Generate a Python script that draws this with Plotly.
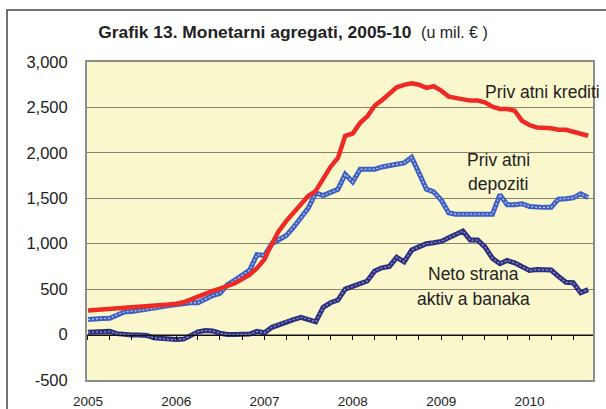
import pandas as pd
import plotly.graph_objects as go

# Monthly observations, Jan 2005 - Sep 2010 (mil. EUR)
months = pd.date_range("2005-01-01", periods=69, freq="MS").strftime("%Y-%m-%d").tolist()

privatni_krediti = [
    265, 270, 280, 285, 290, 295, 300, 305, 310, 315, 325, 330,
    340, 355, 385, 420, 450, 480, 505, 530, 565, 610, 660, 730,
    830, 1000, 1138, 1249, 1340, 1440, 1525, 1580, 1727, 1845, 1945, 2188,
    2213, 2330, 2400, 2519, 2580, 2648, 2722, 2748, 2766, 2750, 2715, 2733,
    2685, 2619, 2604, 2590, 2575, 2575, 2556, 2508, 2483, 2483, 2464, 2354,
    2306, 2280, 2277, 2270, 2254, 2254, 2232, 2210, 2188,
]

privatni_depoziti = [
    165, 175, 178, 180, 220, 250, 255, 265, 275, 290, 305, 320,
    335, 345, 350, 350, 390, 430, 455, 550, 600, 650, 710, 880,
    870, 1000, 1050, 1090, 1180, 1285, 1390, 1560, 1530, 1565, 1600, 1765,
    1680, 1820, 1820, 1820, 1845, 1865, 1875, 1890, 1950, 1780, 1600, 1570,
    1480, 1340, 1325, 1325, 1325, 1325, 1325, 1325, 1540, 1430, 1430, 1440,
    1410, 1400, 1400, 1400, 1490, 1495, 1505, 1550, 1510,
]

neto_strana_aktiva = [
    25, 30, 25, 35, 10, 0, -5, -5, -10, -35, -45, -55,
    -55, -50, -10, 30, 45, 40, 15, 0, 0, 0, 5, 35,
    20, 80, 110, 145, 165, 190, 170, 140, 300, 350, 380, 500,
    530, 560, 590, 700, 735, 750, 850, 800, 930, 965, 1000, 1010,
    1025, 1065, 1100, 1140, 1040, 1040, 965, 840, 780, 815, 790, 750,
    705, 715, 710, 710, 640, 575, 570, 460, 495,
]

year_ticks = ["2005-01-01", "2006-01-01", "2007-01-01", "2008-01-01", "2009-01-01", "2010-01-01"]
year_labels = ["2005", "2006", "2007", "2008", "2009", "2010"]

y_ticks = [-500, 0, 500, 1000, 1500, 2000, 2500, 3000]
y_labels = ["-500", "0", "500", "1,000", "1,500", "2,000", "2,500", "3,000"]

RED = "#ee2a24"
BLUE = "#3d5fc2"
BLUE_DOT = "#b9c7f0"
NAVY = "#2b2f7c"
NAVY_DOT = "#9096cc"
FONT = "Liberation Sans, Arial, sans-serif"

fig = go.Figure()

# Neto strana aktiva banaka (textured navy)
fig.add_trace(go.Scatter(x=months, y=neto_strana_aktiva, mode="lines",
                         line=dict(color=NAVY, width=5), hoverinfo="skip", showlegend=False))
fig.add_trace(go.Scatter(x=months, y=neto_strana_aktiva, mode="lines",
                         line=dict(color=NAVY_DOT, width=1.3, dash="2px,2px"), hoverinfo="skip", showlegend=False))
# Privatni depoziti (textured blue)
fig.add_trace(go.Scatter(x=months, y=privatni_depoziti, mode="lines",
                         line=dict(color=BLUE, width=5), hoverinfo="skip", showlegend=False))
fig.add_trace(go.Scatter(x=months, y=privatni_depoziti, mode="lines",
                         line=dict(color=BLUE_DOT, width=1.3, dash="2px,2px"), hoverinfo="skip", showlegend=False))
# Privatni krediti (red)
fig.add_trace(go.Scatter(x=months, y=privatni_krediti, mode="lines",
                         line=dict(color=RED, width=4.5), hoverinfo="skip", showlegend=False))
# helper trace for the zero-line axis with quarterly ticks
fig.add_trace(go.Scatter(x=[months[0]], y=[None], xaxis="x2", mode="lines",
                         hoverinfo="skip", showlegend=False))

fig.update_layout(
    width=606, height=409,
    margin=dict(l=87, r=13, t=62, b=29, autoexpand=False),
    paper_bgcolor="white",
    plot_bgcolor="#fbf7cd",
    font=dict(family=FONT, color="#222222"),
    title=dict(
        text="<b>Grafik 13. Monetarni agregati, 2005-10</b>\u00a0\u00a0<span style='font-size:16px'>(u mil. € )</span>",
        x=293 / 606, xref="container", xanchor="center",
        y=1 - 32 / 409, yref="container", yanchor="middle",
        font=dict(size=17.4, family=FONT, color="#222222"),
    ),
    xaxis=dict(
        type="date", automargin=False,
        range=["2004-12-28", "2010-09-21"],
        tickmode="array", tickvals=year_ticks, ticktext=year_labels,
        ticks="outside", ticklen=8, tickcolor="rgba(0,0,0,0)",
        tickfont=dict(size=13.5, color="#222222"),
        showgrid=False, zeroline=False,
        showline=True, linecolor="#8c8c8c", linewidth=2, mirror=True,
    ),
    xaxis2=dict(
        type="date", matches="x", overlaying="x", automargin=False,
        anchor="free", position=500 / 3500,
        tickmode="linear", tick0="2005-01-01", dtick="M3",
        ticks="outside", ticklen=4, tickcolor="#111111", tickwidth=1,
        showticklabels=False, showgrid=False, zeroline=False,
        showline=True, linecolor="#111111", linewidth=1,
    ),
    yaxis=dict(
        range=[-500, 3000], automargin=False,
        tickmode="array", tickvals=y_ticks, ticktext=y_labels,
        ticks="outside", ticklen=14, tickcolor="rgba(0,0,0,0)",
        tickfont=dict(size=16.5, color="#222222"),
        showgrid=True, gridcolor="#86826e", gridwidth=1,
        zeroline=False,
        showline=True, linecolor="#8c8c8c", linewidth=2, mirror=True,
    ),
    showlegend=False,
)

ann_font = dict(size=17.5, family=FONT, color="#222222")
labels = [
    ("Priv atni krediti", 0.7826, 0.9066, "left"),
    ("Priv atni", 0.813, 0.692, "center"),
    ("depoziti", 0.813, 0.616, "center"),
    ("Neto strana", 0.763, 0.333, "center"),
    ("aktiv a banaka", 0.763, 0.255, "center"),
]
for text, ax, ay, anchor in labels:
    fig.add_annotation(text=text, x=ax, y=ay, xref="paper", yref="paper",
                       xanchor=anchor, yanchor="middle", showarrow=False, font=ann_font)

# outer frame of the figure box
fig.add_shape(type="rect", xref="paper", yref="paper",
              x0=(7 - 87) / 506, x1=(640 - 87) / 506,
              y0=(380 - 440) / 318, y1=(380 - 10) / 318,
              line=dict(color="#444444", width=1.5), layer="below")

fig.write_html("out.html", config={"displayModeBar": False},
               post_script="document.body.style.margin='0';")
